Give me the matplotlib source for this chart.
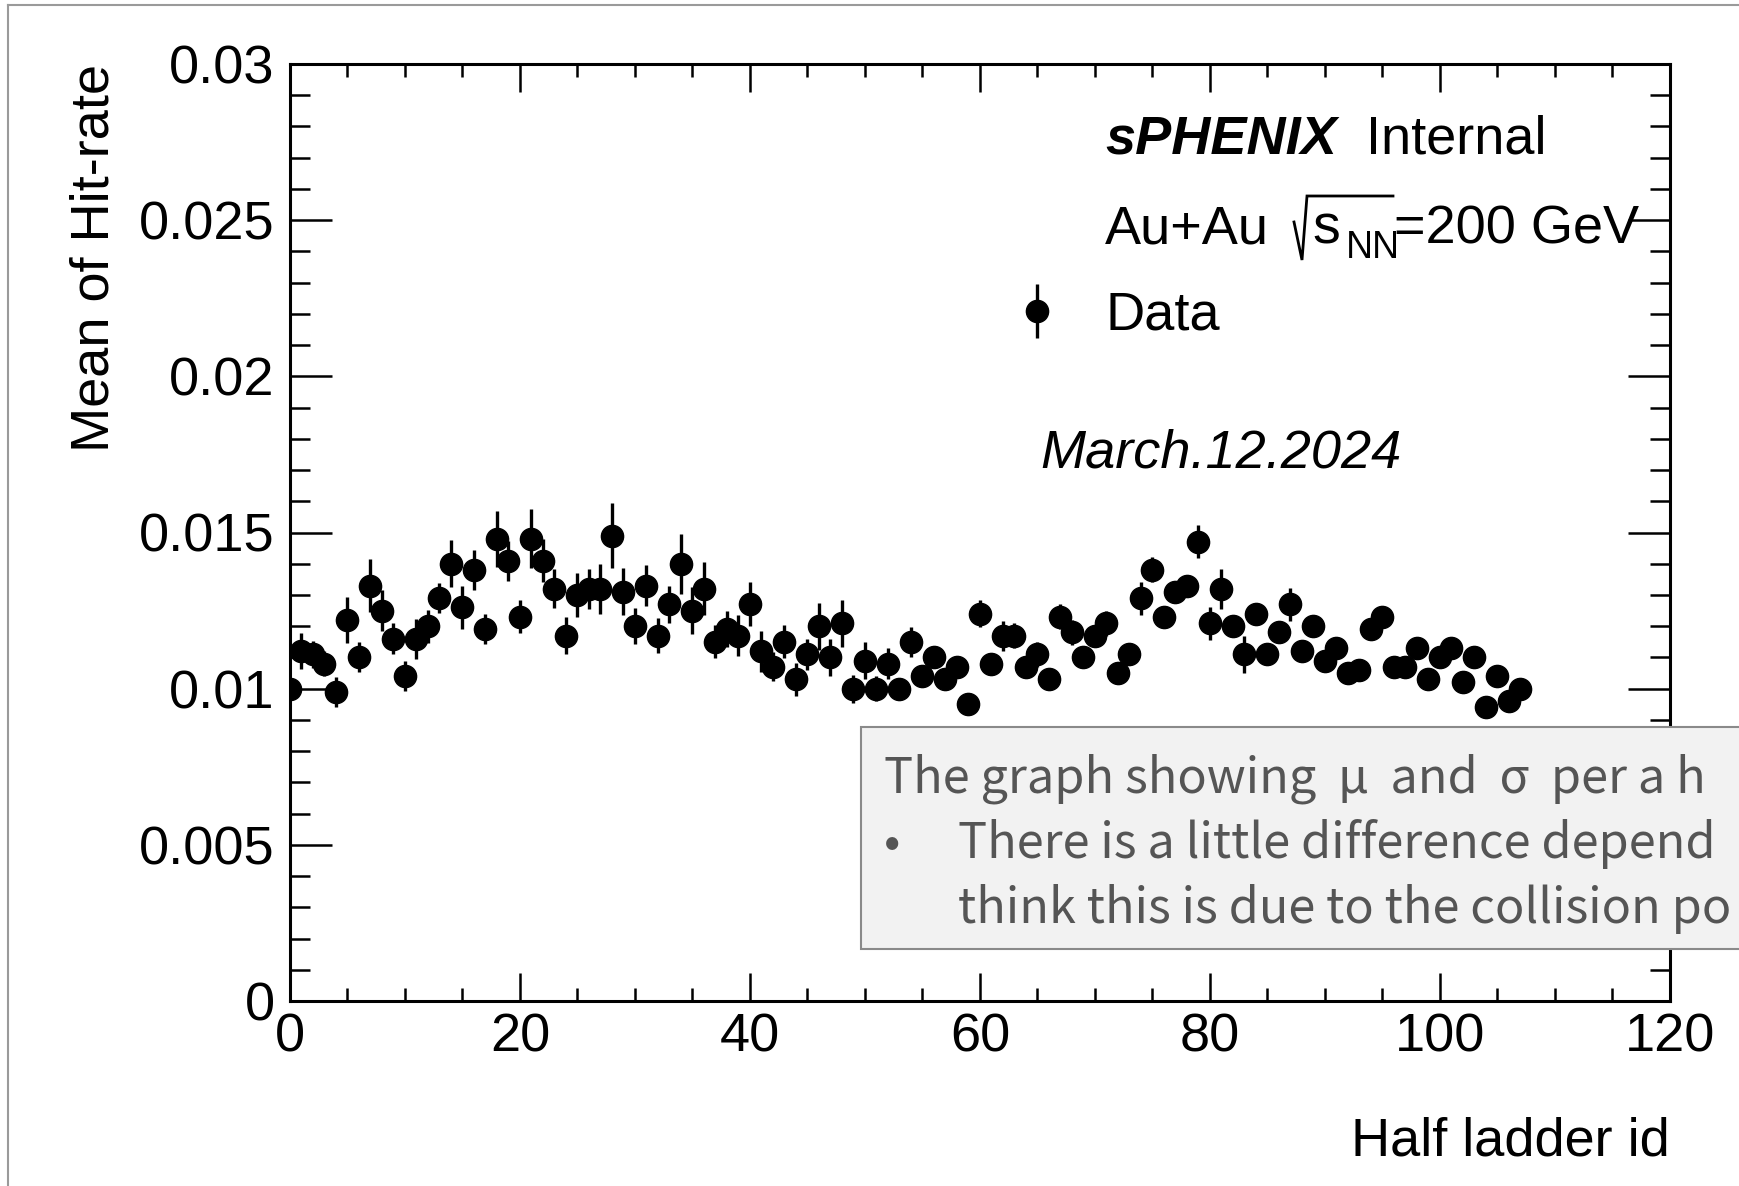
import matplotlib
matplotlib.use("Agg")
import matplotlib.pyplot as plt
from matplotlib.ticker import MultipleLocator, FixedLocator
from matplotlib.patches import Rectangle
from matplotlib.lines import Line2D
import numpy as np

plt.rcParams['font.family'] = ['Liberation Sans', 'DejaVu Sans']

# ---------------- data ----------------
half_ladder_id = list(range(108))
mean_hit_rate = [
    0.0100, 0.0112, 0.0111, 0.0108, 0.0099, 0.0122, 0.0110, 0.0133, 0.0125, 0.0116,
    0.0104, 0.0116, 0.0120, 0.0129, 0.0140, 0.0126, 0.0138, 0.0119, 0.0148, 0.0141,
    0.0123, 0.0148, 0.0141, 0.0132, 0.0117, 0.0130, 0.0132, 0.0132, 0.0149, 0.0131,
    0.0120, 0.0133, 0.0117, 0.0127, 0.0140, 0.0125, 0.0132, 0.0115, 0.0119, 0.0117,
    0.0127, 0.0112, 0.0107, 0.0115, 0.0103, 0.0111, 0.0120, 0.0110, 0.0121, 0.0100,
    0.0109, 0.0100, 0.0108, 0.0100, 0.0115, 0.0104, 0.0110, 0.0103, 0.0107, 0.0095,
    0.0124, 0.0108, 0.0117, 0.0117, 0.0107, 0.0111, 0.0103, 0.0123, 0.0118, 0.0110,
    0.0117, 0.0121, 0.0105, 0.0111, 0.0129, 0.0138, 0.0123, 0.0131, 0.0133, 0.0147,
    0.0121, 0.0132, 0.0120, 0.0111, 0.0124, 0.0111, 0.0118, 0.0127, 0.0112, 0.0120,
    0.0109, 0.0113, 0.0105, 0.0106, 0.0119, 0.0123, 0.0107, 0.0107, 0.0113, 0.0103,
    0.0110, 0.0113, 0.0102, 0.0110, 0.0094, 0.0104, 0.0096, 0.0100,
]
mean_err = [
    0.00030, 0.00058, 0.00043, 0.00040, 0.00048, 0.00073, 0.00048, 0.00085, 0.00066, 0.00050,
    0.00048, 0.00064, 0.00053, 0.00048, 0.00075, 0.00070, 0.00064, 0.00048, 0.00090, 0.00064,
    0.00053, 0.00094, 0.00070, 0.00062, 0.00060, 0.00070, 0.00064, 0.00080, 0.00104, 0.00075,
    0.00058, 0.00066, 0.00055, 0.00060, 0.00096, 0.00075, 0.00085, 0.00053, 0.00058, 0.00066,
    0.00070, 0.00066, 0.00046, 0.00053, 0.00053, 0.00050, 0.00075, 0.00060, 0.00075, 0.00045,
    0.00060, 0.00040, 0.00050, 0.00030, 0.00048, 0.00035, 0.00035, 0.00030, 0.00030, 0.00030,
    0.00043, 0.00030, 0.00048, 0.00040, 0.00030, 0.00040, 0.00030, 0.00040, 0.00040, 0.00030,
    0.00030, 0.00040, 0.00030, 0.00035, 0.00053, 0.00040, 0.00035, 0.00035, 0.00035, 0.00053,
    0.00053, 0.00064, 0.00035, 0.00060, 0.00035, 0.00030, 0.00035, 0.00053, 0.00030, 0.00035,
    0.00030, 0.00030, 0.00030, 0.00030, 0.00030, 0.00030, 0.00030, 0.00030, 0.00030, 0.00030,
    0.00030, 0.00030, 0.00030, 0.00030, 0.00030, 0.00030, 0.00030, 0.00030,
]
y_ticks = [0, 0.005, 0.01, 0.015, 0.02, 0.025, 0.03]
y_tick_labels = ["0", "0.005", "0.01", "0.015", "0.02", "0.025", "0.03"]
x_ticks = [0, 20, 40, 60, 80, 100, 120]
x_tick_labels = ["0", "20", "40", "60", "80", "100", "120"]
note_lines = [
    "The graph showing  μ  and  σ  per a h",
    "There is a little difference depend",
    "think this is due to the collision po",
]

# ---------------- figure ----------------
W, H = 1740, 1186
fig = plt.figure(figsize=(W / 100, H / 100), dpi=100)
fig.patch.set_facecolor("white")

def fx(px):
    return px / W

def fy(py):
    return 1 - py / H

ax_l, ax_r, ax_t, ax_b = 290, 1670, 64, 1001
ax = fig.add_axes([fx(ax_l), fy(ax_b), (ax_r - ax_l) / W, (ax_b - ax_t) / H])

cont = ax.errorbar(half_ladder_id, mean_hit_rate, yerr=mean_err, fmt='o', color='black',
                   markersize=16, elinewidth=2.4, capsize=0, label='Data', zorder=3)

ax.set_xlim(0, 120)
ax.set_ylim(0, 0.03)
ax.xaxis.set_major_locator(FixedLocator(x_ticks))
ax.set_xticklabels(x_tick_labels)
ax.yaxis.set_major_locator(FixedLocator(y_ticks))
ax.set_yticklabels(y_tick_labels)
ax.xaxis.set_minor_locator(MultipleLocator(5))
ax.yaxis.set_minor_locator(MultipleLocator(0.001))

for s in ax.spines.values():
    s.set_linewidth(2.2)
ax.tick_params(axis='both', which='both', direction='in', top=True, right=True, width=1.8)
ax.tick_params(axis='x', which='major', length=20, pad=8, labelsize=39)
ax.tick_params(axis='x', which='minor', length=9.5)
ax.tick_params(axis='y', which='major', length=30, pad=11, labelsize=39)
ax.tick_params(axis='y', which='minor', length=14.5)

# axis titles (ROOT style, at axis ends)
fig.text(fx(1670), fy(1155), "Half ladder id", ha='right', va='baseline', fontsize=39)
fig.text(fx(95), fy(64), "Mean of Hit-rate", ha='center', va='top', rotation=90, fontsize=39)

# labels inside
fig.text(fx(1105), fy(153), "sPHENIX", fontsize=39, fontweight='bold', fontstyle='italic',
         ha='left', va='baseline')
fig.text(fx(1366), fy(153), "Internal", fontsize=39, ha='left', va='baseline')

fig.text(fx(1105), fy(243), "Au+Au", fontsize=39, ha='left', va='baseline')
fig.add_artist(Line2D([fx(1294), fx(1302), fx(1307), fx(1393)],
                      [fy(222), fy(260), fy(196), fy(196)], color='black', lw=2.0,
                      solid_joinstyle='miter'))
fig.text(fx(1312), fy(243), "s", fontsize=40, ha='left', va='baseline')
fig.text(fx(1346), fy(258), "NN", fontsize=27, ha='left', va='baseline')
fig.text(fx(1394), fy(243), "=200 GeV", fontsize=39, ha='left', va='baseline')

fig.text(fx(1040), fy(468), "March.12.2024", fontsize=39, fontstyle='italic',
         ha='left', va='baseline')

leg = ax.legend(handles=[cont], labels=['Data'], loc='center left',
                bbox_to_anchor=(fx(1010), fy(316)), bbox_transform=fig.transFigure,
                frameon=False, fontsize=39, handlelength=1.0, handletextpad=0.76,
                borderpad=0, borderaxespad=0)

# outer screenshot border
fig.add_artist(Line2D([fx(8), fx(8)], [0, fy(5)], color='#9a9a9a', lw=1.5))
fig.add_artist(Line2D([fx(8), 1.0], [fy(5), fy(5)], color='#9a9a9a', lw=1.5))

# overlaid note box
box = Rectangle((fx(861), fy(949)), fx(W + 20) - fx(861), (949 - 727) / H,
                transform=fig.transFigure, facecolor='#f2f2f2', edgecolor='#8a8a8a',
                lw=1.5, zorder=10, clip_on=False)
fig.add_artist(box)
note_font = ['Noto Sans CJK JP', 'DejaVu Sans']
fs_note = 35
fig.text(fx(884), fy(792), note_lines[0], fontsize=fs_note, color='#555555', family=note_font,
         ha='left', va='baseline', zorder=11)
fig.text(fx(884), fy(858), "•", fontsize=fs_note, color='#555555', family=note_font,
         ha='left', va='baseline', zorder=11)
fig.text(fx(958), fy(858), note_lines[1], fontsize=fs_note, color='#555555', family=note_font,
         ha='left', va='baseline', zorder=11)
fig.text(fx(958), fy(923), note_lines[2], fontsize=fs_note, color='#555555', family=note_font,
         ha='left', va='baseline', zorder=11)

fig.savefig("out.png", dpi=100)
